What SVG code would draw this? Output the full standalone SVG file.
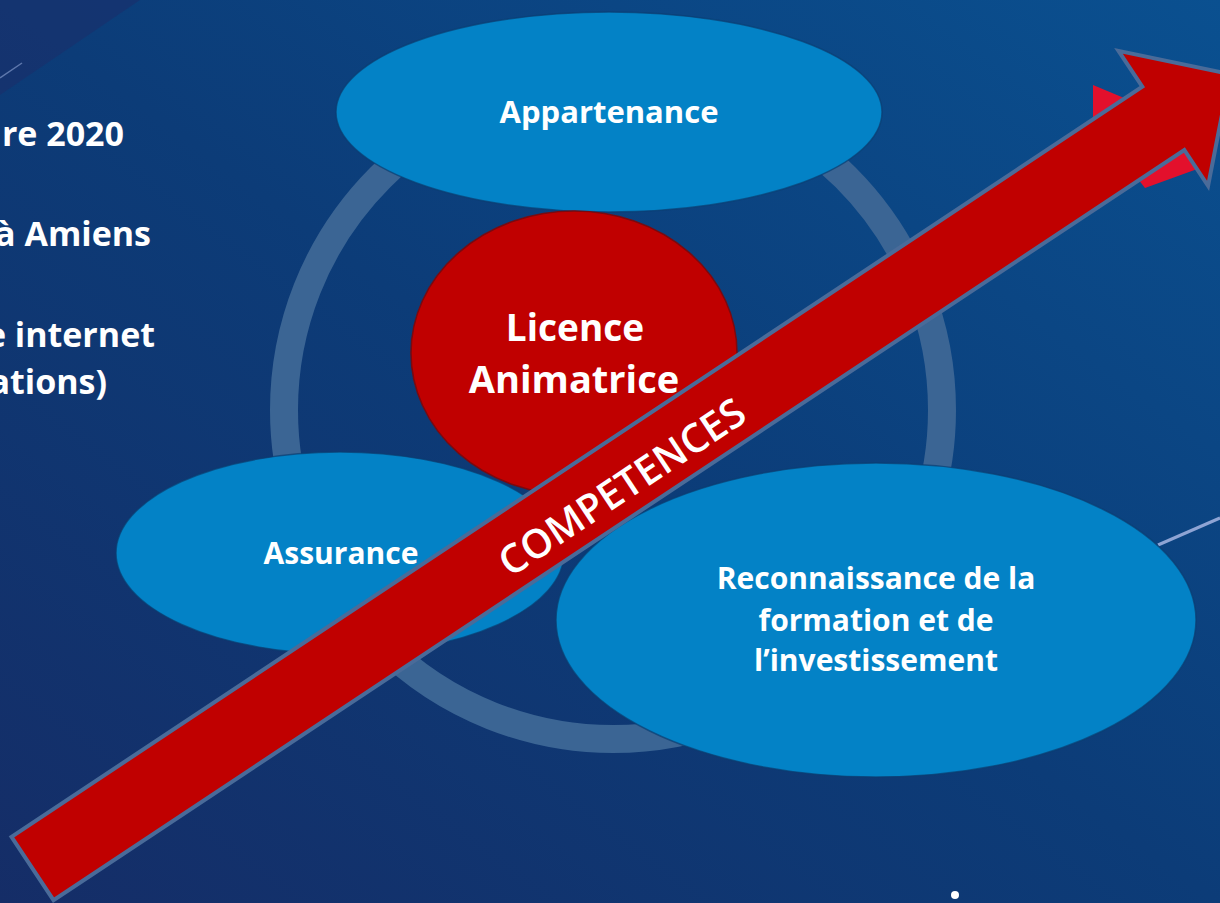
<svg xmlns="http://www.w3.org/2000/svg" width="1220" height="903" viewBox="0 0 1220 903">
<defs>
<linearGradient id="bg" x1="0" y1="1" x2="1" y2="0">
<stop offset="0" stop-color="#152d67"/>
<stop offset="0.5" stop-color="#0c3c78"/>
<stop offset="1" stop-color="#0a5090"/>
</linearGradient>
<style>
.ell{fill:#0382c6;stroke:#0b3d70;stroke-width:1.5;stroke-opacity:0.7}
.t{font-family:"Open Sans","Liberation Sans",sans-serif;font-weight:bold;fill:#ffffff}
.c{text-anchor:middle}
.e{text-anchor:end}
</style>
</defs>
<rect x="0" y="0" width="1220" height="903" fill="url(#bg)"/>
<polygon points="0,0 140,0 0,95" fill="#1a2f6b" opacity="0.6"/>
<line x1="0" y1="78" x2="22" y2="63" stroke="#8fa6d6" stroke-width="1.5" opacity="0.6"/>
<line x1="1158" y1="545" x2="1220" y2="518" stroke="#8ea4d4" stroke-width="3"/>
<circle cx="955" cy="895" r="4" fill="#ffffff"/>

<g id="left-text" class="t" font-size="34">
<text class="e" x="124" y="146">re 2020</text>
<text class="e" x="151" y="246">à Amiens</text>
<text class="e" x="155" y="347">e internet</text>
<text class="e" x="107" y="394">ations)</text>
</g>

<circle cx="613" cy="410" r="329" fill="none" stroke="#3b6594" stroke-width="28"/>

<g id="appartenance">
<ellipse class="ell" cx="609" cy="112" rx="273" ry="100"/>
<text class="t c" x="609" y="123" font-size="31">Appartenance</text>
</g>

<g id="licence">
<ellipse cx="574" cy="353" rx="163" ry="142" fill="#c00000" stroke="#7a0a10" stroke-width="1.5"/>
<text class="t c" x="575" y="341" font-size="37">Licence</text>
<text class="t c" x="574" y="393" font-size="38">Animatrice</text>
</g>

<g id="assurance">
<ellipse class="ell" cx="340" cy="553" rx="224" ry="101"/>
<text class="t c" x="341" y="564" font-size="30">Assurance</text>
</g>

<g id="reconnaissance">
<ellipse class="ell" cx="876" cy="620" rx="320" ry="157"/>
<text class="t c" x="876" y="589" font-size="30">Reconnaissance de la</text>
<text class="t c" x="876" y="631" font-size="30">formation et de</text>
<text class="t c" x="876" y="671" font-size="30">l’investissement</text>
</g>

<g id="connectors">
<polygon points="1093,85 1160,113 1200,168 1145,188 1093,122" fill="#e3102c"/>
<g id="competences" transform="translate(32.5,868.5) rotate(-33.56)">
<polygon points="0,-38 1357,-38 1357,-81 1437,0 1357,81 1357,38 0,38" fill="#c00000" stroke="#4a6b99" stroke-width="4" stroke-linejoin="miter"/>
<text class="c" x="702" y="22" font-family="Open Sans, Liberation Sans, sans-serif" font-weight="600" font-size="40" fill="#ffffff">COMPETENCES</text>
</g>
</g>
</svg>
